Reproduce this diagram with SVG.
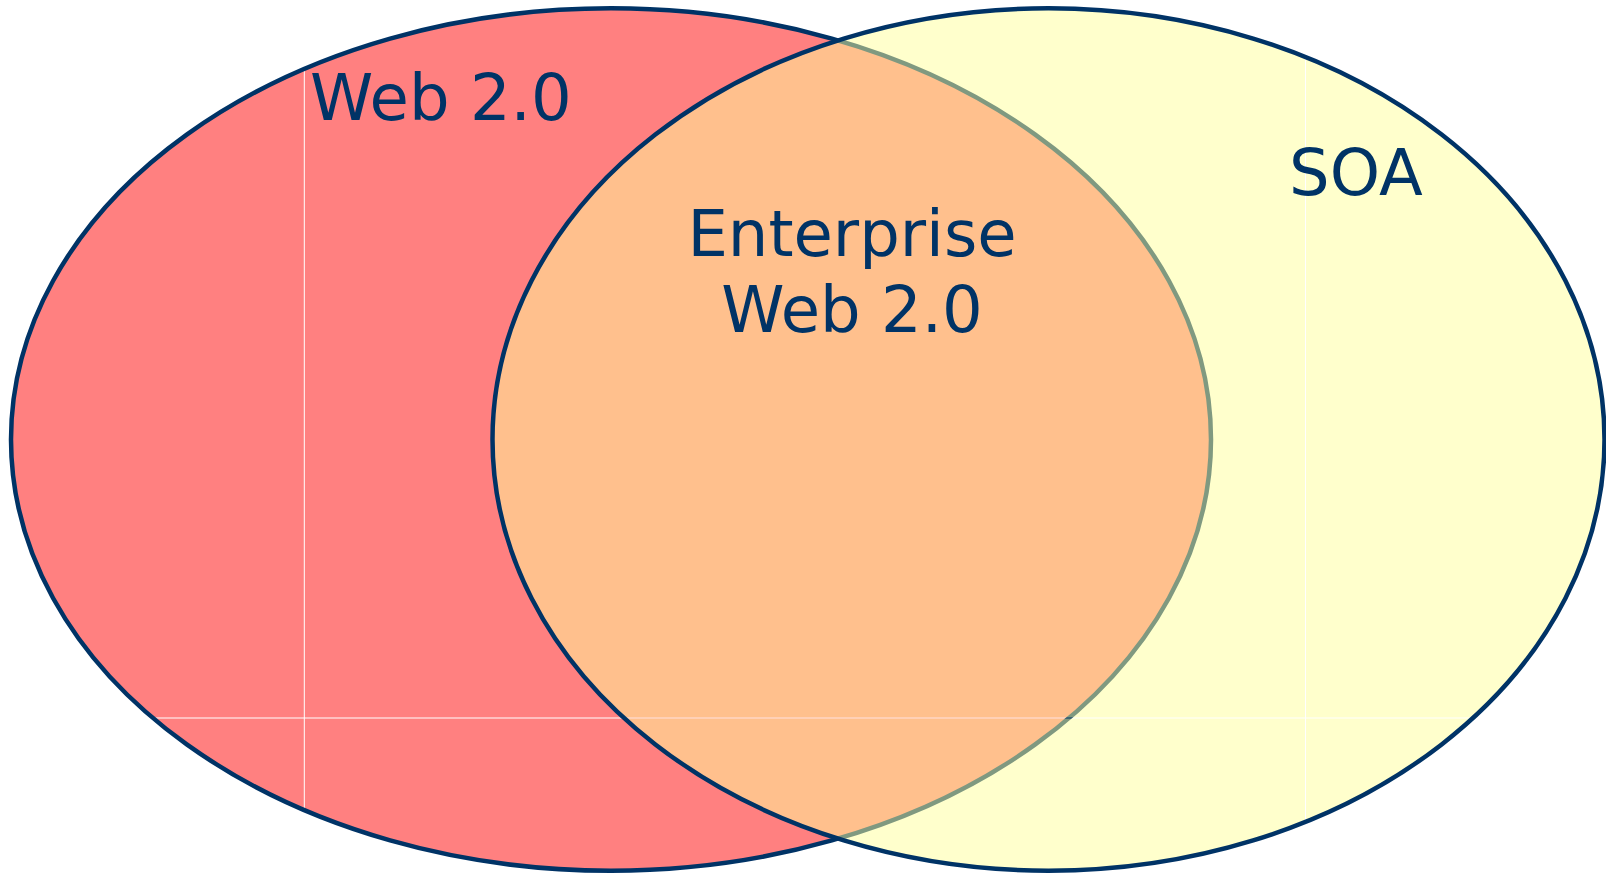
<svg xmlns="http://www.w3.org/2000/svg" width="1606" height="873" viewBox="0 0 1606 873">
  <style>
    .outline { fill: none; stroke: #003366; stroke-width: 4.5; }
    .label { font-family: "DejaVu Sans", Verdana, sans-serif; font-size: 64px; fill: #003366; }
    .seam { fill: #FFFFFF; }
  </style>
  <defs>
    <clipPath id="clip-web20">
      <ellipse cx="611" cy="439.5" rx="600" ry="431.2"/>
    </clipPath>
    <!-- thin gaps left in the SOA fill -->
    <mask id="mask-soa" maskUnits="userSpaceOnUse" x="0" y="0" width="1606" height="873">
      <rect x="0" y="0" width="1606" height="873" fill="#FFFFFF"/>
      <rect x="0" y="717.5" width="1606" height="1" fill="#000000"/>
      <rect x="1305" y="0" width="1" height="873" fill="#000000"/>
    </mask>
  </defs>

  <rect x="0" y="0" width="1606" height="873" fill="#FFFFFF"/>

  <!-- Web 2.0 set -->
  <g id="web20">
    <ellipse cx="611" cy="439.5" rx="600" ry="431.2" fill="#FF8080"/>
    <g clip-path="url(#clip-web20)">
      <rect class="seam" x="303.8" y="0" width="1" height="873"/>
      <rect class="seam" x="0" y="717.5" width="1606" height="1"/>
    </g>
    <ellipse class="outline" cx="611" cy="439.5" rx="600" ry="431.2"/>
    <text class="label" x="310" y="119.5">Web 2.0</text>
  </g>

  <!-- SOA set, translucent so the overlap reads as orange -->
  <g id="soa">
    <ellipse cx="1048.5" cy="439.5" rx="556" ry="431.2" fill="#FFFF99" fill-opacity="0.5" mask="url(#mask-soa)"/>
    <ellipse class="outline" cx="1048.5" cy="439.5" rx="556" ry="431.2"/>
    <text class="label" x="1289" y="195">SOA</text>
  </g>

  <!-- overlap label -->
  <g id="enterprise-web20">
    <text class="label" x="852" y="255.7" text-anchor="middle">Enterprise</text>
    <text class="label" x="852" y="331.7" text-anchor="middle">Web 2.0</text>
  </g>
</svg>
